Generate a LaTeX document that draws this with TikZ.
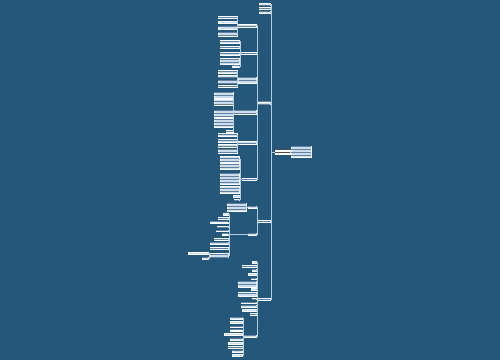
\documentclass[tikz,border=0pt]{standalone}
\usetikzlibrary{patterns}
\definecolor{bgblue}{RGB}{36,87,122}
\definecolor{boxfill}{RGB}{204,222,238}
\definecolor{boxink}{RGB}{98,128,160}
\definecolor{linecol}{RGB}{178,205,226}
\tikzset{
	leaf/.style 2 args={draw=white!90!boxfill, line width=0.3pt, fill=boxfill, inner sep=0pt, outer sep=0pt,
		minimum width=#1pt, minimum height={#2pt-0.6pt}, anchor=east,
		postaction={pattern=horizontal lines, pattern color=boxink}},
	link/.style={draw=linecol, line width=0.6pt},
	trunk/.style={draw=linecol, line width=0.9pt}
}
\begin{document}
\begin{tikzpicture}[x=1pt, y=-1pt]
	\fill[bgblue] (0,0) rectangle (500,360);
	\useasboundingbox (0,0) rectangle (500,360);
	% Root and its note
	\node[leaf={15}{5}, fill=white, postaction={pattern=horizontal lines, pattern color=black!70}] (root) at (290,152) {};
	\node[leaf={20}{12}, anchor=west] (note) at (291,151.5) {};
	% First level
	\node[leaf={11}{2.5}] (t1) at (270,4.5) {};
	\node[leaf={11}{2.5}] (t2) at (270,8.5) {};
	\node[leaf={11}{2.5}] (t3) at (270,12.5) {};
	\node[leaf={12}{3}] (A) at (270,103) {};
	\node[leaf={12}{3}] (B) at (270,221) {};
	\node[leaf={12}{3}] (C) at (270,299) {};
	% Branch A
	\node[leaf={18}{3}] (a1) at (256,25.5) {};
	\node[leaf={15}{2.5}] (a2) at (256,53) {};
	\node[leaf={18}{6}] (a3) at (256,80) {};
	\node[leaf={22}{4}] (a4) at (256,112) {};
	\node[leaf={18}{3}] (a5) at (256,142.5) {};
	\node[leaf={14}{2.5}] (a6) at (256,179) {};
	% a1
	\node[leaf={19}{2.5}] (a1c1) at (237,17) {};
	\node[leaf={19}{2.5}] (a1c2) at (237,22) {};
	\node[leaf={19}{3.5}] (a1c3) at (237,27.5) {};
	\node[leaf={19}{4}] (a1c4) at (237,34) {};
	% a2
	\node[leaf={19}{3}] (a2c1) at (239,41.5) {};
	\node[leaf={19}{2.5}] (a2c2) at (239,47) {};
	\node[leaf={19}{3}] (a2c3) at (239,53.5) {};
	\node[leaf={19}{6}] (a2c4) at (239,61) {};
	\node[leaf={7}{2}] (a2c5) at (239,66.5) {};
	% a3
	\node[leaf={19}{3}] (a3c1) at (237,71.5) {};
	\node[leaf={19}{2.5}] (a3c2) at (237,76.5) {};
	\node[leaf={19}{3.5}] (a3c3) at (237,82) {};
	\node[leaf={19}{3}] (a3c4) at (237,86) {};
	% a4
	\node[leaf={19}{6}] (a4c1) at (233,95) {};
	\node[leaf={19}{6}] (a4c2) at (233,102) {};
	\node[leaf={19}{7}] (a4c3) at (233,113.5) {};
	\node[leaf={19}{9}] (a4c4) at (233,122.5) {};
	\node[leaf={7}{2}] (a4c5) at (233,131) {};
	% a5
	\node[leaf={19}{3.5}] (a5c1) at (237,135) {};
	\node[leaf={19}{3}] (a5c2) at (237,140.5) {};
	\node[leaf={19}{3}] (a5c3) at (237,145.5) {};
	\node[leaf={19}{4}] (a5c4) at (237,151) {};
	% a6
	\node[leaf={19}{6}] (a6c1) at (239,159) {};
	\node[leaf={19}{6}] (a6c2) at (239,166) {};
	\node[leaf={19}{11}] (a6c3) at (239,178.5) {};
	\node[leaf={19}{7}] (a6c4) at (239,189.5) {};
	\node[leaf={6}{2}] (a6c5) at (239,196) {};
	\node[leaf={5}{2}] (a6c6) at (239,199.5) {};
	% Branch B
	\node[leaf={8}{2}] (b1) at (256,207) {};
	\node[leaf={19}{8}] (b1c1) at (246,207) {};
	\node[leaf={8}{2}] (b2) at (256,234) {};
	\node[leaf={5}{2}] (b2c1) at (228,214) {};
	\node[leaf={10}{2}] (b2c2) at (228,218) {};
	\node[leaf={18}{2}] (b2c3) at (228,222.5) {};
	\node[leaf={11}{2}] (b2c4) at (228,226.5) {};
	\node[leaf={12}{2}] (b2c5) at (228,230.5) {};
	\node[leaf={6}{2}] (b2c6) at (228,234.5) {};
	\node[leaf={14}{2}] (b2c7) at (228,239) {};
	\node[leaf={18}{2.5}] (b2c8) at (228,243) {};
	\node[leaf={18}{2.5}] (b2c9) at (228,248) {};
	\node[leaf={18}{5}] (b2c10) at (228,255) {};
	\node[leaf={20}{2.5}] (b2d1) at (208,253) {};
	\node[leaf={6}{2}] (b2d2) at (208,258) {};
	% Branch C
	\node[leaf={4}{2}] (c1) at (256,262) {};
	\node[leaf={14}{2}] (c2) at (256,266) {};
	\node[leaf={4}{2}] (c3) at (256,270) {};
	\node[leaf={8}{2}] (c4) at (256,274) {};
	\node[leaf={5}{2}] (c5) at (256,278.5) {};
	\node[leaf={18}{6}] (c6) at (256,284) {};
	\node[leaf={5}{2}] (c7) at (256,289) {};
	\node[leaf={18}{4}] (c8) at (256,294) {};
	\node[leaf={4}{2}] (c9) at (256,298.5) {};
	\node[leaf={15}{2}] (c10) at (256,302.5) {};
	\node[leaf={15}{2}] (c11) at (256,306) {};
	\node[leaf={14}{2}] (c12) at (256,310) {};
	\node[leaf={6}{2}] (c13) at (256,314) {};
	\node[leaf={12}{2}] (c14) at (256,336) {};
	% c14
	\node[leaf={12.5}{2}] (c14d1) at (242.5,318) {};
	\node[leaf={12.5}{2}] (c14d2) at (242.5,322) {};
	\node[leaf={12.5}{2}] (c14d3) at (242.5,326.5) {};
	\node[leaf={12.5}{2}] (c14d4) at (242.5,330.5) {};
	\node[leaf={18.5}{2.5}] (c14d5) at (242.5,334) {};
	\node[leaf={12.5}{2.5}] (c14d6) at (242.5,339) {};
	\node[leaf={14.5}{2}] (c14d7) at (242.5,343) {};
	\node[leaf={14.5}{2}] (c14d8) at (242.5,347) {};
	\node[leaf={10.5}{2}] (c14d9) at (242.5,351) {};
	\node[leaf={10.5}{2.5}] (c14d10) at (242.5,355) {};
	% connectors
	\draw[link] (root.east) -- (note.west);
	\foreach \c in {t1,t2,t3,A,B,C}
		\draw[trunk] (root.west) -- ++(-4,0) |- (\c.east);
	\foreach \c in {a1,a2,a3,a4,a5,a6}
		\draw[link] (A.west) -- ++(-1,0) |- (\c.east);
	\foreach \c in {a1c1,a1c2,a1c3,a1c4}
		\draw[link] (a1.west) -- ++(-0.5,0) |- (\c.east);
	\foreach \c in {a2c1,a2c2,a2c3,a2c4,a2c5}
		\draw[link] (a2.west) -- ++(-1,0) |- (\c.east);
	\foreach \c in {a3c1,a3c2,a3c3,a3c4}
		\draw[link] (a3.west) -- ++(-0.5,0) |- (\c.east);
	\foreach \c in {a4c1,a4c2,a4c3,a4c4,a4c5}
		\draw[link] (a4.west) -- ++(-0.5,0) |- (\c.east);
	\foreach \c in {a5c1,a5c2,a5c3,a5c4}
		\draw[link] (a5.west) -- ++(-0.5,0) |- (\c.east);
	\foreach \c in {a6c1,a6c2,a6c3,a6c4,a6c5,a6c6}
		\draw[link] (a6.west) -- ++(-2,0) |- (\c.east);
	\foreach \c in {b1,b2}
		\draw[link] (B.west) -- ++(-1,0) |- (\c.east);
	\draw[link] (b1.west) -- (b1c1.east);
	\foreach \c in {b2c1,b2c2,b2c3,b2c4,b2c5,b2c6,b2c7,b2c8,b2c9,b2c10}
		\draw[link] (b2.west) -- ++(-19,0) |- (\c.east);
	\foreach \c in {b2d1,b2d2}
		\draw[link] (b2c10.west) -- ++(-1,0) |- (\c.east);
	\foreach \c in {c1,c2,c3,c4,c5,c6,c7,c8,c9,c10,c11,c12,c13,c14}
		\draw[link] (C.west) -- ++(-1,0) |- (\c.east);
	\foreach \c in {c14d1,c14d2,c14d3,c14d4,c14d5,c14d6,c14d7,c14d8,c14d9,c14d10}
		\draw[link] (c14.west) -- ++(-0.5,0) |- (\c.east);
\end{tikzpicture}
\end{document}
